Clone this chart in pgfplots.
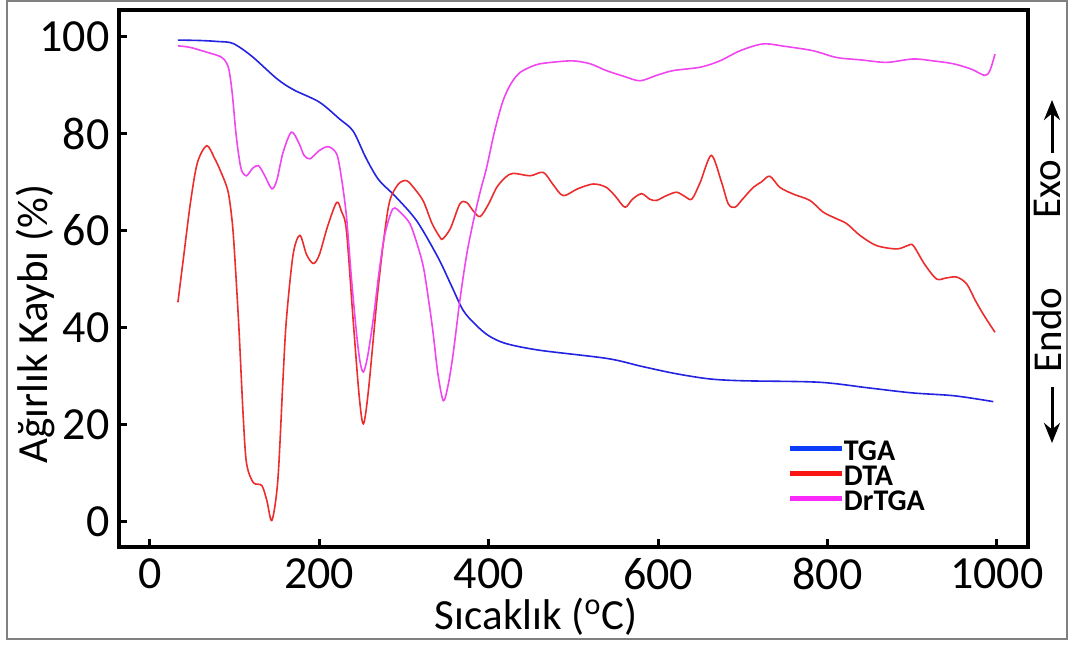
\documentclass[border=0pt]{standalone}
\usepackage{fontspec}
\setmainfont{Carlito}
\usepackage{pgfplots}
\pgfplotsset{compat=1.18}
\usetikzlibrary{arrows.meta}

\definecolor{tgaBlue}{RGB}{35,35,225}
\definecolor{dtaRed}{RGB}{235,45,45}
\definecolor{drtgaMag}{RGB}{240,70,240}
\definecolor{legBlue}{RGB}{10,60,250}
\definecolor{legRed}{RGB}{250,20,20}
\definecolor{legMag}{RGB}{250,40,250}

\begin{document}
\begin{tikzpicture}
\begin{axis}[
  scale only axis, width=454.5pt, height=268.5pt,
  xmin=-36.6, xmax=1037, ymin=-5.3, ymax=105.5,
  xtick={0,200,...,1000}, ytick={0,20,...,100},
  tick pos=left, tick align=inside,
  major tick length=4pt,
  axis line style={line width=2pt},
  every tick/.style={black, line width=1.5pt},
  /pgf/number format/assume math mode=true,
  /pgf/number format/1000 sep={},
  tick label style={font=\fontsize{23}{23}\selectfont},
  xticklabel style={inner sep=0pt, yshift=-5.5pt},
  yticklabel style={inner sep=0pt, xshift=-4.5pt},
  label style={font=\fontsize{21.5}{21.5}\selectfont},
  xlabel={Sıcaklık (\textsuperscript{o}C)},
  ylabel={Ağırlık Kaybı (\%)},
  xlabel style={at={(axis description cs:0.459,-0.153)}, anchor=base},
  ylabel style={at={(axis description cs:-0.079,0.415)}, anchor=base},
  legend style={at={(axis cs:753,16.6)}, anchor=north west,
    draw=none, fill=none, inner sep=0pt, outer sep=0pt,
    font=\bfseries\fontsize{15}{15}\selectfont, row sep=0pt,
    nodes={inner sep=0pt, text height=10pt, text depth=2.5pt},
    /tikz/every even column/.append style={column sep=0pt}},
  legend cell align=left,
  legend image code/.code={\draw[line width=2.2pt,#1] (0pt,2.5pt) -- (26pt,2.5pt);},
  every axis plot/.append style={line width=0.8pt, smooth, tension=0.5, mark=none},
]
% TGA
\addplot[tgaBlue, forget plot] coordinates {
(33,99.3)(60,99.2)(80,99.0)(98,98.6)(120,96)(150,91.3)(170,89)(200,86.5)(224,83)
(240,80.5)(255,75)(270,70.5)(290,67)(315,62)(340,54.5)(355,49)(370,43.5)(385,40.5)
(400,38.3)(420,36.7)(460,35.3)(540,33.6)(580,32)(620,30.5)(660,29.4)(700,29)
(790,28.7)(850,27.5)(900,26.5)(950,25.9)(996,24.7)};
% DTA
\addplot[dtaRed, forget plot] coordinates {
(33,45.2)(40,55)(48,66)(56,74)(67,77.5)(76,75)(83,72.4)(92,68.2)(97,62)(100,55)
(105,40)(110,22)(114,12)(122,8)(132,7.4)(138,4.3)(144,0.2)(151,8.5)(157,29)(161,41.4)
(169,55)(177,59)(185,55)(193,53.2)(200,55)(210,61)(220.5,65.8)(226,64)(232,60)
(240,41.4)(247,26)(252,20.1)(258,27)(268,45.6)(276,58)(283,66)(293,69.5)(303,70.3)
(313,68.5)(323,66)(333,61.5)(342.5,58.6)(346,58.3)(355,60.5)(366,65.5)(374,65.8)
(382,64)(390,62.9)(400,65.5)(409.5,68.9)(420,71)(429,71.8)(449,71.3)(464.5,72)
(476,69.5)(488,67.2)(505,68.6)(523.6,69.6)(539,68.9)(550,67)(561,64.8)(570,66.5)
(580.7,67.6)(590,66.5)(598,66.2)(610,67.2)(622,67.9)(632,67)(640,66.5)(650,70)
(663,75.5)(675,70)(683,65.5)(691,64.8)(700,66.5)(712.5,68.9)(722,70)(732,71.2)
(744,68.9)(760,67.5)(779.5,66.2)(795,63.8)(810,62.5)(823,61.4)(838.5,59)(858,56.9)
(882,56.2)(895,56.9)(901.5,56.9)(915,53)(929,50)(940,50.2)(952.7,50.4)(964.5,49)
(975,45.5)(985,42.5)(998,39)};
% DrTGA
\addplot[drtgaMag, forget plot] coordinates {
(33,98.1)(47,97.8)(67,96.8)(85,95.7)(92.5,93.7)(96,90)(98,86.8)(101,81)(104,76.5)
(108,72.5)(114,71.3)(121,72.8)(128,73.4)(135,71.5)(144,68.6)(150,70.5)(157,76)
(167,80.3)(176,78)(182,75.5)(189,74.8)(200,76.5)(210.6,77.3)(220.5,75.8)(226,71)
(232,63)(238,50)(244,38.7)(248,33)(252,30.8)(257,34)(264,42.1)(271,52)(277.5,59.3)
(287,64.5)(297,63.5)(307,61.4)(315,57.5)(323,52.4)(330,44.5)(334.5,38.7)(340,30.5)
(346.4,24.9)(352,28)(358,34.5)(366,45.6)(374,55)(382,62)(390,68)(397.6,73)
(407,80.5)(417,86.8)(427,90.5)(437,92.6)(450,93.8)(460.6,94.4)(480,94.8)(500,95)
(520,94.4)(539,93)(560,91.8)(578.7,90.9)(598,92)(618,93)(650,93.7)(673,95)(697,97.1)
(724,98.5)(750,98)(783,97.1)(811,95.7)(840,95.2)(870,94.7)(901.5,95.4)(925,95)
(949,94.4)(970,93.3)(986,92)(992,93)(998,96.4)};
\addlegendimage{legBlue}\addlegendentry{TGA}
\addlegendimage{legRed}\addlegendentry{DTA}
\addlegendimage{legMag}\addlegendentry{DrTGA}
\end{axis}
% Exo / Endo markers on the right
\node[rotate=90, font=\fontsize{20.5}{20.5}\selectfont, inner sep=0pt] at (464pt,178.75pt) {Exo};
\draw[line width=1.5pt, -{Stealth[length=10pt,width=8pt]}] (466.5pt,197pt) -- (466.5pt,223.5pt);
\node[rotate=90, font=\fontsize{20.5}{20.5}\selectfont, inner sep=0pt] at (464pt,108.5pt) {Endo};
\draw[line width=1.5pt, -{Stealth[length=10pt,width=8pt]}] (466.5pt,80pt) -- (466.5pt,52pt);
% outer frame
\draw[gray, line width=1pt] (-56pt,-46pt) rectangle (474pt,273pt);
\pgfresetboundingbox
\useasboundingbox (-59.5pt,-48.5pt) rectangle (475.5pt,273.5pt);
\end{tikzpicture}
\end{document}
